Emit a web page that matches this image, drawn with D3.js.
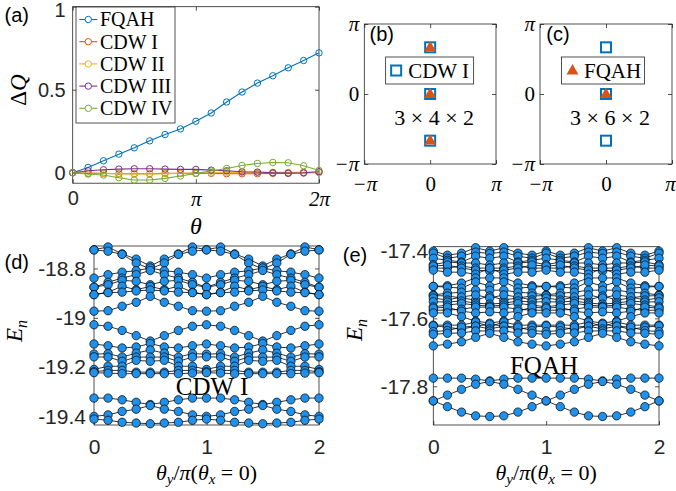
<!DOCTYPE html>
<html>
<head>
<meta charset="utf-8">
<title>FQAH vs CDW</title>
<script src="https://cdn.jsdelivr.net/npm/d3@7"></script>
<style>
body { margin: 0; background: #fff; }
svg { display: block; }
.num { font-family: "Liberation Sans", Arial, sans-serif; font-size: 20px; fill: #262626; }
.tex { font-family: "Liberation Serif", "Times New Roman", serif; fill: #000; }
.plabel { font-family: "Liberation Sans", Arial, sans-serif; font-size: 20px; fill: #000; }
</style>
</head>
<body>
<svg id="fig" width="676" height="491"></svg>
<script>
const PI = Math.PI;

// ---- (a) pumped charge vs inserted flux ------------------------------
const thetaA = [0, 0.125, 0.25, 0.375, 0.5, 0.625, 0.75, 0.875, 1, 1.125, 1.25, 1.375, 1.5, 1.625, 1.75, 1.875, 2]; // x pi
const dqFQAH = [0, 0.032, 0.072, 0.112, 0.150, 0.192, 0.230, 0.264, 0.310, 0.360, 0.426, 0.486, 0.540, 0.584, 0.632, 0.676, 0.722];
const dqCDW1 = [0, -0.004, -0.004, -0.006, -0.006, -0.006, -0.004, -0.004, -0.004, -0.004, -0.006, -0.006, -0.006, -0.004, -0.004, -0.002, 0.002];
const dqCDW2 = [0, -0.002, -0.004, -0.006, -0.008, -0.008, -0.006, -0.004, -0.002, 0, 0.002, 0.002, 0.002, 0.002, 0.002, 0.002, 0.002];
const dqCDW3 = [0, 0.012, 0.018, 0.022, 0.024, 0.024, 0.022, 0.020, 0.020, 0.016, 0.012, 0.006, 0.004, 0, -0.002, 0, 0.006];
const dqCDW4 = [0, -0.008, -0.014, -0.030, -0.044, -0.044, -0.034, -0.020, -0.004, 0.010, 0.026, 0.044, 0.056, 0.062, 0.060, 0.042, 0.014];
const namesA = ["FQAH", "CDW I", "CDW II", "CDW III", "CDW IV"];
const colorsA = ["#0072BD", "#D95319", "#EDB120", "#7E2F8E", "#77AC30"];

// ---- (b),(c) momenta of ground states (units of pi) ------------------
const kyCDW = [2 / 3, 0, -2 / 3];
const kyFQAH34 = [2 / 3, 0, -2 / 3];
const kyFQAH36 = [0];

// ---- (d),(e) spectral flow -------------------------------------------
const thetaY = [0, 0.125, 0.25, 0.375, 0.5, 0.625, 0.75, 0.875, 1, 1.125, 1.25, 1.375, 1.5, 1.625, 1.75, 1.875, 2];
const specCDW = [
  [-18.724,-18.713,-18.741,-18.762,-18.790,-18.762,-18.741,-18.713,-18.724,-18.713,-18.741,-18.762,-18.790,-18.762,-18.741,-18.713,-18.724],
  [-18.725,-18.730,-18.743,-18.778,-18.802,-18.778,-18.743,-18.730,-18.725,-18.730,-18.743,-18.778,-18.802,-18.778,-18.743,-18.730,-18.725],
  [-18.839,-18.825,-18.815,-18.809,-18.798,-18.809,-18.815,-18.825,-18.839,-18.825,-18.815,-18.809,-18.798,-18.809,-18.815,-18.825,-18.839],
  [-18.876,-18.856,-18.839,-18.825,-18.808,-18.825,-18.839,-18.856,-18.876,-18.856,-18.839,-18.825,-18.808,-18.825,-18.839,-18.856,-18.876],
  [-18.876,-18.866,-18.848,-18.852,-18.866,-18.852,-18.848,-18.866,-18.876,-18.866,-18.848,-18.852,-18.866,-18.852,-18.848,-18.866,-18.876],
  [-18.906,-18.896,-18.872,-18.886,-18.873,-18.886,-18.872,-18.896,-18.906,-18.896,-18.872,-18.886,-18.873,-18.886,-18.872,-18.896,-18.906],
  [-18.906,-18.898,-18.896,-18.891,-18.887,-18.891,-18.896,-18.898,-18.906,-18.898,-18.896,-18.891,-18.887,-18.891,-18.896,-18.898,-18.906],
  [-18.973,-18.971,-18.953,-18.937,-18.913,-18.937,-18.953,-18.971,-18.973,-18.971,-18.953,-18.937,-18.913,-18.937,-18.953,-18.971,-18.973],
  [-19.028,-19.034,-19.051,-19.072,-19.094,-19.072,-19.051,-19.034,-19.028,-19.034,-19.051,-19.072,-19.094,-19.072,-19.051,-19.034,-19.028],
  [-19.106,-19.113,-19.122,-19.118,-19.104,-19.118,-19.122,-19.113,-19.106,-19.113,-19.122,-19.118,-19.104,-19.118,-19.122,-19.113,-19.106],
  [-19.147,-19.145,-19.159,-19.143,-19.130,-19.143,-19.159,-19.145,-19.147,-19.145,-19.159,-19.143,-19.130,-19.143,-19.159,-19.145,-19.147],
  [-19.158,-19.159,-19.176,-19.159,-19.159,-19.159,-19.176,-19.159,-19.158,-19.159,-19.176,-19.159,-19.159,-19.159,-19.176,-19.159,-19.158],
  [-19.209,-19.196,-19.196,-19.172,-19.176,-19.172,-19.196,-19.196,-19.209,-19.196,-19.196,-19.172,-19.176,-19.172,-19.196,-19.196,-19.209],
  [-19.218,-19.213,-19.213,-19.220,-19.220,-19.220,-19.213,-19.213,-19.218,-19.213,-19.213,-19.220,-19.220,-19.220,-19.213,-19.213,-19.218],
  [-19.222,-19.224,-19.226,-19.226,-19.226,-19.226,-19.226,-19.224,-19.222,-19.224,-19.226,-19.226,-19.226,-19.226,-19.226,-19.224,-19.222],
  [-19.325,-19.325,-19.332,-19.342,-19.351,-19.342,-19.332,-19.325,-19.325,-19.325,-19.332,-19.342,-19.351,-19.342,-19.332,-19.325,-19.325],
  [-19.399,-19.393,-19.379,-19.370,-19.355,-19.370,-19.379,-19.393,-19.399,-19.393,-19.379,-19.370,-19.355,-19.370,-19.379,-19.393,-19.399],
  [-19.410,-19.415,-19.423,-19.426,-19.429,-19.426,-19.423,-19.415,-19.410,-19.415,-19.423,-19.426,-19.429,-19.426,-19.423,-19.415,-19.410]
];
const specFQAH = [
  [-17.402,-17.414,-17.408,-17.392,-17.402,-17.392,-17.408,-17.414,-17.402,-17.414,-17.408,-17.392,-17.402,-17.392,-17.408,-17.414,-17.402],
  [-17.408,-17.423,-17.417,-17.405,-17.409,-17.405,-17.417,-17.423,-17.408,-17.423,-17.417,-17.405,-17.409,-17.405,-17.417,-17.423,-17.408],
  [-17.423,-17.429,-17.434,-17.417,-17.423,-17.417,-17.434,-17.429,-17.423,-17.429,-17.434,-17.417,-17.423,-17.417,-17.434,-17.429,-17.423],
  [-17.442,-17.434,-17.437,-17.437,-17.443,-17.437,-17.437,-17.434,-17.442,-17.434,-17.437,-17.437,-17.443,-17.437,-17.437,-17.434,-17.442],
  [-17.452,-17.452,-17.446,-17.452,-17.452,-17.452,-17.446,-17.452,-17.452,-17.452,-17.446,-17.452,-17.452,-17.452,-17.446,-17.452,-17.452],
  [-17.446,-17.443,-17.452,-17.458,-17.461,-17.458,-17.452,-17.443,-17.446,-17.443,-17.452,-17.458,-17.461,-17.458,-17.452,-17.443,-17.446],
  [-17.458,-17.464,-17.464,-17.470,-17.452,-17.470,-17.464,-17.464,-17.458,-17.464,-17.464,-17.470,-17.452,-17.470,-17.464,-17.464,-17.458],
  [-17.506,-17.504,-17.496,-17.481,-17.481,-17.481,-17.496,-17.504,-17.506,-17.504,-17.496,-17.481,-17.481,-17.481,-17.496,-17.504,-17.506],
  [-17.506,-17.508,-17.511,-17.493,-17.505,-17.493,-17.511,-17.508,-17.506,-17.508,-17.511,-17.493,-17.505,-17.493,-17.511,-17.508,-17.506],
  [-17.531,-17.526,-17.523,-17.517,-17.517,-17.517,-17.523,-17.526,-17.531,-17.526,-17.523,-17.517,-17.517,-17.517,-17.523,-17.526,-17.531],
  [-17.533,-17.534,-17.540,-17.546,-17.534,-17.546,-17.540,-17.534,-17.533,-17.534,-17.540,-17.546,-17.534,-17.546,-17.540,-17.534,-17.533],
  [-17.540,-17.546,-17.537,-17.531,-17.540,-17.531,-17.537,-17.546,-17.540,-17.546,-17.537,-17.531,-17.540,-17.531,-17.537,-17.546,-17.540],
  [-17.551,-17.552,-17.549,-17.555,-17.558,-17.555,-17.549,-17.552,-17.551,-17.552,-17.549,-17.555,-17.558,-17.555,-17.549,-17.552,-17.551],
  [-17.566,-17.561,-17.556,-17.561,-17.564,-17.561,-17.556,-17.561,-17.566,-17.561,-17.556,-17.561,-17.564,-17.561,-17.556,-17.561,-17.566],
  [-17.576,-17.576,-17.573,-17.567,-17.567,-17.567,-17.573,-17.576,-17.576,-17.576,-17.573,-17.567,-17.567,-17.567,-17.573,-17.576,-17.576],
  [-17.570,-17.567,-17.579,-17.584,-17.581,-17.584,-17.579,-17.567,-17.570,-17.567,-17.579,-17.584,-17.581,-17.584,-17.579,-17.567,-17.570],
  [-17.584,-17.584,-17.595,-17.608,-17.614,-17.608,-17.595,-17.584,-17.584,-17.584,-17.595,-17.608,-17.614,-17.608,-17.595,-17.584,-17.584],
  [-17.620,-17.620,-17.620,-17.611,-17.624,-17.611,-17.620,-17.620,-17.620,-17.620,-17.620,-17.611,-17.624,-17.611,-17.620,-17.620,-17.620],
  [-17.622,-17.626,-17.632,-17.623,-17.617,-17.623,-17.632,-17.626,-17.622,-17.626,-17.632,-17.623,-17.617,-17.623,-17.632,-17.626,-17.622],
  [-17.639,-17.636,-17.626,-17.623,-17.631,-17.623,-17.626,-17.636,-17.639,-17.636,-17.626,-17.623,-17.631,-17.623,-17.626,-17.636,-17.639],
  [-17.647,-17.644,-17.643,-17.637,-17.637,-17.637,-17.643,-17.644,-17.647,-17.644,-17.643,-17.637,-17.637,-17.637,-17.643,-17.644,-17.647],
  [-17.681,-17.676,-17.669,-17.656,-17.644,-17.656,-17.669,-17.676,-17.681,-17.676,-17.669,-17.656,-17.644,-17.656,-17.669,-17.676,-17.681],
  [-17.776,-17.776,-17.776,-17.779,-17.784,-17.779,-17.776,-17.776,-17.776,-17.776,-17.776,-17.779,-17.784,-17.779,-17.776,-17.776,-17.776],
  [-17.843,-17.826,-17.809,-17.794,-17.786,-17.794,-17.809,-17.826,-17.843,-17.826,-17.809,-17.794,-17.786,-17.794,-17.809,-17.826,-17.843],
  [-17.843,-17.860,-17.876,-17.887,-17.889,-17.887,-17.876,-17.860,-17.843,-17.860,-17.876,-17.887,-17.889,-17.887,-17.876,-17.860,-17.843]
];

const svg = d3.select("#fig");
const AX = "#262626";

// draws the box and inward ticks on all four sides
function frame(x, y, xTicks, yTicks, xFmt, yFmt, xPad, yPad, fontSize) {
  const g = svg.append("g");
  const [x0, x1] = x.range(), [y0, y1] = y.range();
  g.append("g").attr("transform", "translate(0," + y0 + ")")
    .call(d3.axisBottom(x).tickValues(xTicks).tickFormat(xFmt).tickSize(-4).tickPadding(xPad));
  g.append("g").attr("transform", "translate(0," + y1 + ")")
    .call(d3.axisTop(x).tickValues(xTicks).tickFormat("").tickSize(-4));
  g.append("g").attr("transform", "translate(" + x0 + ",0)")
    .call(d3.axisLeft(y).tickValues(yTicks).tickFormat(yFmt).tickSize(-4).tickPadding(yPad));
  g.append("g").attr("transform", "translate(" + x1 + ",0)")
    .call(d3.axisRight(y).tickValues(yTicks).tickFormat("").tickSize(-4));
  g.selectAll(".domain").remove();
  g.selectAll(".tick line").attr("stroke", AX).attr("stroke-width", 0.8);
  g.selectAll(".tick text").attr("class", "num").style("font-size", fontSize + "px").attr("fill", AX);
  g.append("rect").attr("x", x0).attr("y", y1).attr("width", x1 - x0).attr("height", y0 - y1)
    .attr("fill", "none").attr("stroke", AX).attr("stroke-width", 0.8);
  return g;
}

function serifTicks(g) {
  g.selectAll(".tick text").attr("class", "tex").style("font-size", "21px").attr("fill", "#000");
}

// ================= (a) =================
const xA = d3.scaleLinear().domain([0, 2 * PI]).range([72.7, 319]);
const yA = d3.scaleLinear().domain([-0.063, 1]).range([183.2, 6.7]);
const gA = frame(xA, yA, [0, PI, 2 * PI], [0, 0.5, 1],
  d => d === 0 ? "0" : (d === PI ? "\u03c0" : "2\u03c0"), d => String(d), 8, 7, 20);
gA.selectAll(".tick text").filter(d => d === PI || d === 2 * PI)
  .attr("class", "tex").style("font-size", "21px").style("font-style", "italic").attr("fill", "#000");
// keep the top label inside the page
gA.selectAll(".tick text").filter(d => d === 1).attr("dy", "0.5em");

const seriesA = [dqFQAH, dqCDW1, dqCDW2, dqCDW3, dqCDW4];
const lineA = d3.line().x((d, i) => xA(thetaA[i] * PI)).y(d => yA(d));
seriesA.forEach((vals, k) => {
  svg.append("path").datum(vals).attr("d", lineA)
    .attr("fill", "none").attr("stroke", colorsA[k]).attr("stroke-width", 1.1);
  svg.append("g").selectAll("circle").data(vals).join("circle")
    .attr("cx", (d, i) => xA(thetaA[i] * PI)).attr("cy", d => yA(d)).attr("r", 3.2)
    .attr("fill", "none").attr("stroke", colorsA[k]).attr("stroke-width", 1);
});

// legend (a)
const legA = svg.append("g");
legA.append("rect").attr("x", 76).attr("y", 7).attr("width", 99).attr("height", 116)
  .attr("fill", "#fff").attr("stroke", AX).attr("stroke-width", 0.8);
namesA.forEach((n, k) => {
  const yy = 19.5 + k * 22.2;
  legA.append("line").attr("x1", 79.3).attr("x2", 97.3).attr("y1", yy).attr("y2", yy)
    .attr("stroke", colorsA[k]).attr("stroke-width", 1.1);
  legA.append("circle").attr("cx", 88.3).attr("cy", yy).attr("r", 3.2)
    .attr("fill", "#fff").attr("stroke", colorsA[k]).attr("stroke-width", 1);
  legA.append("text").attr("class", "tex").attr("x", 100).attr("y", yy + 6.8)
    .style("font-size", "20px").text(n);
});

svg.append("text").attr("class", "tex").attr("transform", "translate(26,90) rotate(-90)")
  .attr("text-anchor", "middle").style("font-size", "23px")
  .html('\u0394<tspan font-style="italic">Q</tspan>');
svg.append("text").attr("class", "tex").attr("x", 196).attr("y", 234)
  .attr("text-anchor", "middle").style("font-size", "24px").style("font-style", "italic").text("\u03b8");

// ================= (b), (c) =================
function momentumPanel(x, y, squares, triangles, legendText, legendMarker, size) {
  const g = frame(x, y, [-PI, 0, PI], [-PI, 0, PI],
    d => d === 0 ? "0" : (d > 0 ? "\u03c0" : "\u2212\u03c0"),
    d => d === 0 ? "0" : (d > 0 ? "\u03c0" : "\u2212\u03c0"), 12, 5, 20);
  serifTicks(g);
  g.selectAll(".tick text").filter(d => d !== 0).style("font-style", "italic");
  svg.append("g").selectAll("rect").data(squares).join("rect")
    .attr("x", d => x(0) - 5).attr("y", d => y(d * PI) - 5).attr("width", 10).attr("height", 10)
    .attr("fill", "none").attr("stroke", "#0072BD").attr("stroke-width", 2);
  const tri = d3.symbol().type(d3.symbolTriangle).size(62);
  svg.append("g").selectAll("path").data(triangles).join("path")
    .attr("d", tri).attr("transform", d => "translate(" + x(0) + "," + (y(d * PI) + 0.5) + ")")
    .attr("fill", "#D95319");
  const cx = (x.range()[0] + x.range()[1]) / 2;
  // legend box
  const lw = legendMarker === "square" ? 88 : 83;
  const lx = cx - 44.5;
  svg.append("rect").attr("x", lx).attr("y", 57).attr("width", lw).attr("height", 27)
    .attr("fill", "#fff").attr("stroke", AX).attr("stroke-width", 0.8);
  if (legendMarker === "square") {
    svg.append("rect").attr("x", lx + 5.5).attr("y", 65.5).attr("width", 10).attr("height", 10)
      .attr("fill", "none").attr("stroke", "#0072BD").attr("stroke-width", 2);
  } else {
    svg.append("path").attr("d", tri).attr("transform", "translate(" + (lx + 11) + ",71)").attr("fill", "#D95319");
  }
  svg.append("text").attr("class", "tex").attr("x", lx + 22.5).attr("y", 78)
    .style("font-size", "21px").text(legendText);
  svg.append("text").attr("class", "tex").attr("x", cx + 4).attr("y", 125)
    .attr("text-anchor", "middle").style("font-size", "22px").text(size);
  return g;
}
const xB = d3.scaleLinear().domain([-PI, PI]).range([364.3, 496]);
const yB = d3.scaleLinear().domain([-PI, PI]).range([164, 24]);
momentumPanel(xB, yB, kyCDW, kyFQAH34, "CDW I", "square", "3 \u00d7 4 \u00d7 2");
const xC = d3.scaleLinear().domain([-PI, PI]).range([540, 672]);
const yC = d3.scaleLinear().domain([-PI, PI]).range([164, 24]);
const gC = momentumPanel(xC, yC, kyCDW, kyFQAH36, "FQAH", "triangle", "3 \u00d7 6 \u00d7 2");
// last label sits at the page edge; nudge it inside
gC.selectAll(".tick text").filter(function(d) { return d === PI && this.getAttribute("dy") === "0.71em"; })
  .attr("dx", -2);

// ================= (d), (e) =================
function flowPanel(x, y, bands, yTicks, yPad, tag, tagX, tagY) {
  const g = frame(x, y, [0, 1, 2], yTicks, d => String(d),
    d => d3.format(".1f")(d).replace("\u2212", "-").replace(/\.0$/, ""), 14, yPad, 21);
  const line = d3.line().x((d, i) => x(thetaY[i])).y(d => y(d));
  bands.forEach(b => {
    svg.append("path").datum(b).attr("d", line)
      .attr("fill", "none").attr("stroke", "#000").attr("stroke-width", 0.8);
    svg.append("g").selectAll("circle").data(b).join("circle")
      .attr("cx", (d, i) => x(thetaY[i])).attr("cy", d => y(d)).attr("r", 4.2)
      .attr("fill", "#1f91ea").attr("stroke", "#000").attr("stroke-width", 0.7);
  });
  svg.append("text").attr("class", "tex").attr("x", tagX).attr("y", tagY)
    .attr("text-anchor", "middle").style("font-size", "25px").text(tag);
  const cx = (x.range()[0] + x.range()[1]) / 2;
  svg.append("text").attr("class", "tex").attr("x", cx).attr("y", 480)
    .attr("text-anchor", "middle").style("font-size", "22px")
    .html('<tspan font-style="italic">\u03b8</tspan><tspan font-style="italic" font-size="15px" dy="4">y</tspan>' +
      '<tspan dy="-4">/</tspan><tspan font-style="italic">\u03c0</tspan>(<tspan font-style="italic">\u03b8</tspan>' +
      '<tspan font-style="italic" font-size="15px" dy="4">x</tspan><tspan dy="-4"> = 0)</tspan>');
}
const xD = d3.scaleLinear().domain([0, 2]).range([94, 319]);
const yD = d3.scaleLinear().domain([-19.434, -18.709]).range([425, 246]);
flowPanel(xD, yD, specCDW, [-19.4, -19.2, -19, -18.8], 8, "CDW I", 212, 395);
const xE = d3.scaleLinear().domain([0, 2]).range([433.3, 659]);
const yE = d3.scaleLinear().domain([-17.914, -17.389]).range([425, 246.7]);
flowPanel(xE, yE, specFQAH, [-17.8, -17.6, -17.4], 5, "FQAH", 544, 374);

[[15, 331], [355, 330]].forEach(p => {
  svg.append("text").attr("class", "tex").attr("transform", "translate(" + (p[0] + 7) + "," + p[1] + ") rotate(-90)")
    .attr("text-anchor", "middle").style("font-size", "23px")
    .html('<tspan font-style="italic">E</tspan><tspan font-style="italic" font-size="16px" dy="5">n</tspan>');
});

// panel tags
[["(a)", 16.7, 22], ["(b)", 381.7, 40.5], ["(c)", 558, 40.5], ["(d)", 16.7, 269], ["(e)", 355, 262]].forEach(t => {
  svg.append("text").attr("class", "plabel").attr("x", t[1]).attr("y", t[2])
    .attr("text-anchor", "middle").text(t[0]);
});
</script>
</body>
</html>
